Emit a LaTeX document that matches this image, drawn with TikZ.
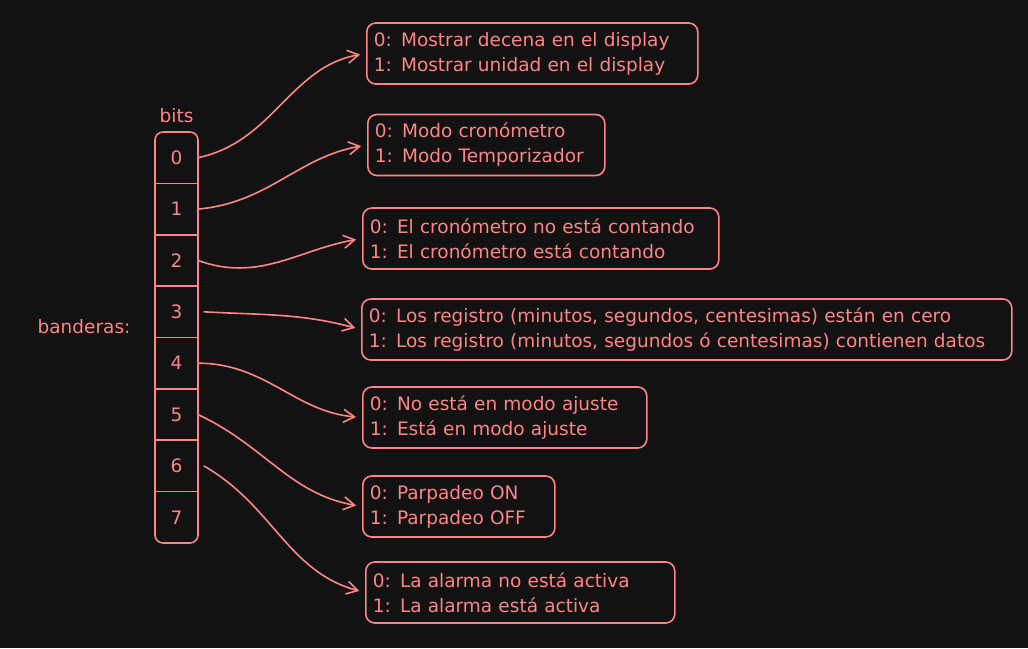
\documentclass[tikz,border=0pt]{standalone}
\usepackage{fontspec}
\setmainfont{DejaVu Sans}
\usetikzlibrary{positioning,arrows.meta}
\definecolor{flagred}{HTML}{FF8585}
\definecolor{darkbg}{HTML}{121212}
\tikzset{>={Straight Barb[length=11pt,width=13pt]}}
\tikzset{
  bitcell/.style={minimum width=43pt, minimum height=51.375pt, inner sep=0pt, outer sep=0pt, text=flagred},
  flagbox/.style={draw=flagred, rounded corners=9pt, anchor=west, minimum height=61pt,
    align=left, inner xsep=7pt, text=flagred},
  link/.style={->, draw=flagred, line cap=round, shorten >=6pt}
}

\begin{document}
\begin{tikzpicture}[x=1pt, y=-1pt, line width=1.6pt, font=\fontsize{18.5}{25}\selectfont]
      \fill[darkbg] (0,0) rectangle (1028,648);
      \useasboundingbox (0,0) rectangle (1028,648);
      % bit column
      \node[bitcell] (b0) at (176.5,157.7) {0};
      \node[bitcell] (b1) [below=0pt of b0] {1};
      \node[bitcell] (b2) [below=0pt of b1] {2};
      \node[bitcell] (b3) [below=0pt of b2] {3};
      \node[bitcell] (b4) [below=0pt of b3] {4};
      \node[bitcell] (b5) [below=0pt of b4] {5};
      \node[bitcell] (b6) [below=0pt of b5] {6};
      \node[bitcell] (b7) [below=0pt of b6] {7};
      \draw[flagred, rounded corners=8pt] (b0.north west) rectangle (b7.south east);
      \draw[flagred] (b0.south west) -- (b0.south east);
      \draw[flagred] (b1.south west) -- (b1.south east);
      \draw[flagred] (b2.south west) -- (b2.south east);
      \draw[flagred] (b3.south west) -- (b3.south east);
      \draw[flagred] (b4.south west) -- (b4.south east);
      \draw[flagred] (b5.south west) -- (b5.south east);
      \draw[flagred] (b6.south west) -- (b6.south east);
      \node[text=flagred] (bits) [above=5pt of b0] {bits};
      \node[text=flagred] (banderas) at (84,327) {banderas:};
      % meaning of each bit
      \node[flagbox, text width=317pt] (f0) at (366,53.5)
        {0: Mostrar decena en el display\\1: Mostrar unidad en el display};
      \node[flagbox, text width=223pt] (f1) at (367,145)
        {0: Modo cronómetro\\1: Modo Temporizador};
      \node[flagbox, text width=342pt] (f2) at (362,238.5)
        {0: El cronómetro no está contando\\1: El cronómetro está contando};
      \node[flagbox, text width=636pt] (f3) at (361,329.5)
        {0: Los registro (minutos, segundos, centesimas) están en cero\\1: Los registro (minutos, segundos ó centesimas) contienen datos};
      \node[flagbox, text width=270pt] (f4) at (362,417.5)
        {0: No está en modo ajuste\\1: Está en modo ajuste};
      \node[flagbox, text width=178pt] (f5) at (362,506.5)
        {0: Parpadeo ON\\1: Parpadeo OFF};
      \node[flagbox, text width=295pt] (f6) at (365,592.5)
        {0: La alarma no está activa\\1: La alarma está activa};
      % links
      \coordinate (s3) at ([xshift=6pt]b3.east);
      \coordinate (s6) at ([xshift=6pt]b6.east);
      \draw[link] (b0.east) to[out=12, in=190] (f0.west);
      \draw[link] (b1.east) to[out=5, in=190] (f1.west);
      \draw[link] (b2.east) to[out=-20, in=190] (f2.west);
      \draw[link] (s3) to[out=-3, in=165] (f3.west);
      \draw[link] (b4.east) to[out=0, in=175] (f4.west);
      \draw[link] (b5.east) to[out=-25, in=170] (f5.west);
      \draw[link] (s6) to[out=-30, in=165] (f6.west);
\end{tikzpicture}
\end{document}
